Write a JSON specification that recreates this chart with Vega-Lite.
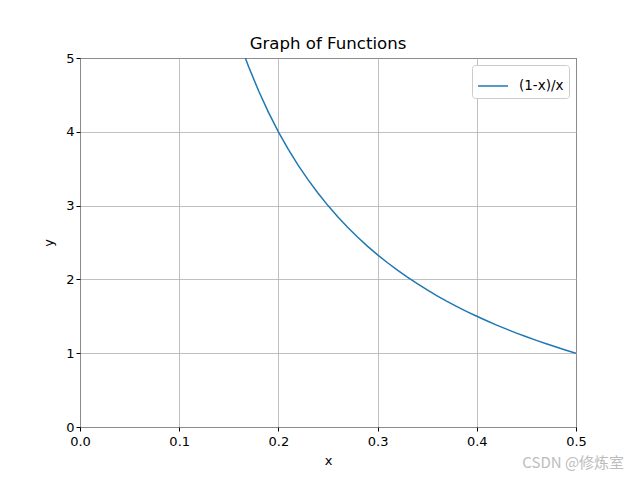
{
  "$schema": "https://vega.github.io/schema/vega-lite/v6.json",
  "width": 496,
  "height": 369,
  "autosize": {"type": "none"},
  "padding": {"left": 80, "top": 58, "right": 64, "bottom": 53},
  "background": "white",
  "title": {"text": "Graph of Functions", "font": "DejaVu Sans", "fontSize": 16.6, "fontWeight": "normal", "color": "black", "offset": -1},
  "config": {
    "view": {"stroke": "black", "strokeWidth": 1},
    "axis": {
      "labelFont": "DejaVu Sans", "labelFontSize": 13, "labelColor": "black",
      "titleFont": "DejaVu Sans", "titleFontSize": 13, "titleFontWeight": "normal", "titleColor": "black",
      "tickColor": "black", "tickSize": 4, "domain": false,
      "grid": true, "gridColor": "#b0b0b0", "gridWidth": 0.8
    },
    "legend": {
      "orient": "top-right", "offset": 7, "strokeColor": "#cccccc", "fillColor": "white",
      "padding": 5, "cornerRadius": 3, "labelFont": "DejaVu Sans", "labelFontSize": 13.5,
      "labelColor": "black", "symbolType": "stroke", "symbolSize": 900, "symbolStrokeWidth": 1.5,
      "labelOffset": 10
    }
  },
  "datasets": {
    "curve": [
      {"x": 0.16667, "y": 5.0, "series": "(1-x)/x"},
      {"x": 0.17, "y": 4.8824, "series": "(1-x)/x"},
      {"x": 0.18, "y": 4.5556, "series": "(1-x)/x"},
      {"x": 0.19, "y": 4.2632, "series": "(1-x)/x"},
      {"x": 0.20, "y": 4.0, "series": "(1-x)/x"},
      {"x": 0.21, "y": 3.7619, "series": "(1-x)/x"},
      {"x": 0.22, "y": 3.5455, "series": "(1-x)/x"},
      {"x": 0.23, "y": 3.3478, "series": "(1-x)/x"},
      {"x": 0.24, "y": 3.1667, "series": "(1-x)/x"},
      {"x": 0.25, "y": 3.0, "series": "(1-x)/x"},
      {"x": 0.26, "y": 2.8462, "series": "(1-x)/x"},
      {"x": 0.27, "y": 2.7037, "series": "(1-x)/x"},
      {"x": 0.28, "y": 2.5714, "series": "(1-x)/x"},
      {"x": 0.29, "y": 2.4483, "series": "(1-x)/x"},
      {"x": 0.30, "y": 2.3333, "series": "(1-x)/x"},
      {"x": 0.31, "y": 2.2258, "series": "(1-x)/x"},
      {"x": 0.32, "y": 2.125, "series": "(1-x)/x"},
      {"x": 0.33, "y": 2.0303, "series": "(1-x)/x"},
      {"x": 0.34, "y": 1.9412, "series": "(1-x)/x"},
      {"x": 0.35, "y": 1.8571, "series": "(1-x)/x"},
      {"x": 0.36, "y": 1.7778, "series": "(1-x)/x"},
      {"x": 0.37, "y": 1.7027, "series": "(1-x)/x"},
      {"x": 0.38, "y": 1.6316, "series": "(1-x)/x"},
      {"x": 0.39, "y": 1.5641, "series": "(1-x)/x"},
      {"x": 0.40, "y": 1.5, "series": "(1-x)/x"},
      {"x": 0.41, "y": 1.439, "series": "(1-x)/x"},
      {"x": 0.42, "y": 1.381, "series": "(1-x)/x"},
      {"x": 0.43, "y": 1.3256, "series": "(1-x)/x"},
      {"x": 0.44, "y": 1.2727, "series": "(1-x)/x"},
      {"x": 0.45, "y": 1.2222, "series": "(1-x)/x"},
      {"x": 0.46, "y": 1.1739, "series": "(1-x)/x"},
      {"x": 0.47, "y": 1.1277, "series": "(1-x)/x"},
      {"x": 0.48, "y": 1.0833, "series": "(1-x)/x"},
      {"x": 0.49, "y": 1.0408, "series": "(1-x)/x"},
      {"x": 0.50, "y": 1.0, "series": "(1-x)/x"}
    ],
    "mark": [
      {"x": 0.5485, "y": -0.49, "label": "CSDN @修炼室"}
    ]
  },
  "layer": [
    {
      "data": {"name": "curve"},
      "mark": {"type": "line", "strokeWidth": 1.5, "clip": true},
      "encoding": {
        "x": {"field": "x", "type": "quantitative", "scale": {"domain": [0, 0.5], "nice": false, "zero": false},
              "axis": {"title": "x", "values": [0, 0.1, 0.2, 0.3, 0.4, 0.5], "format": ".1f", "labelFlush": false, "labelPadding": 4, "titlePadding": 6}},
        "y": {"field": "y", "type": "quantitative", "scale": {"domain": [0, 5], "nice": false},
              "axis": {"title": "y", "values": [0, 1, 2, 3, 4, 5], "format": "d", "titlePadding": 10}},
        "color": {"field": "series", "type": "nominal", "scale": {"range": ["#1f77b4"]}, "legend": {"title": null}}
      }
    },
    {
      "data": {"name": "mark"},
      "mark": {"type": "text", "align": "right", "baseline": "middle", "font": "Noto Sans CJK SC", "fontSize": 15, "color": "#bdbdbd", "clip": false},
      "encoding": {
        "x": {"field": "x", "type": "quantitative"},
        "y": {"field": "y", "type": "quantitative"},
        "text": {"field": "label"}
      }
    }
  ]
}
